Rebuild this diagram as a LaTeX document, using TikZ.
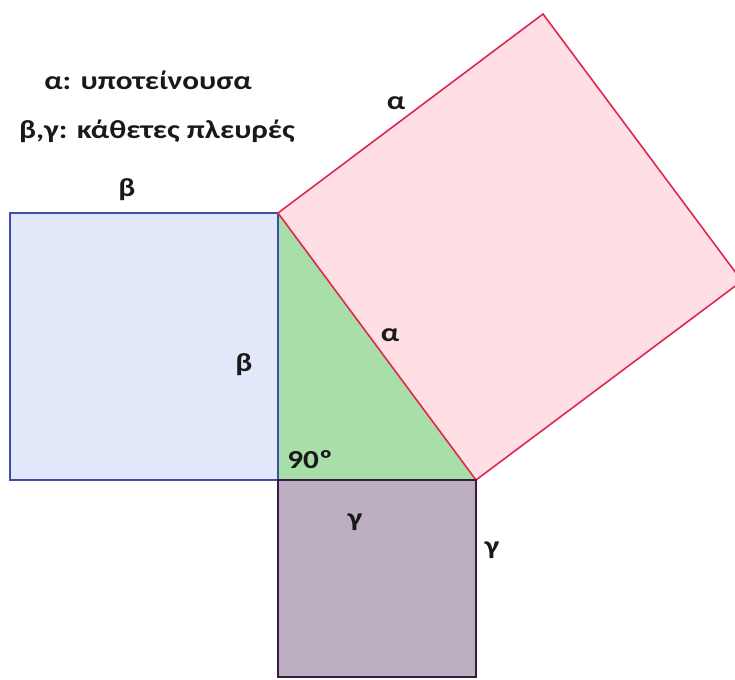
\documentclass[tikz,border=0pt]{standalone}
\usepackage{fontspec}
\usepackage{graphicx}
\setmainfont{Carlito}
\newcommand{\wtxt}[1]{\scalebox{1.2}[1]{#1}}
\begin{document}
\begin{tikzpicture}[x=1pt,y=-1pt,
  lbl/.style={font=\bfseries\fontsize{26}{30}\selectfont, text={rgb,255:red,25;green,25;blue,25}, inner sep=0pt},
  bluesq/.style={draw={rgb,255:red,60;green,80;blue,170}, fill={rgb,255:red,226;green,231;blue,250}, line width=1.6pt},
  greentri/.style={fill={rgb,255:red,168;green,222;blue,168}},
  pinksq/.style={draw={rgb,255:red,222;green,40;blue,80}, fill={rgb,255:red,255;green,222;blue,228}, line width=1.6pt},
  purpsq/.style={draw={rgb,255:red,60;green,25;blue,65}, fill={rgb,255:red,188;green,175;blue,193}, line width=2pt}]
\useasboundingbox (0,0) rectangle (735,679);
\clip (0,0) rectangle (735,679);
\coordinate (A) at (278,213);
\coordinate (C) at (278,480);
\coordinate (B) at (476,480);
\coordinate (P1) at (543,14);
\coordinate (P2) at (742,281);
\coordinate (L1) at (10,213);
\coordinate (L2) at (10,480);
\coordinate (D1) at (278,677);
\coordinate (D2) at (476,677);
\fill[greentri] (A) -- (C) -- (B) -- cycle;
\draw[bluesq] (L1) -- (A) -- (C) -- (L2) -- cycle;
\draw[pinksq] (A) -- (P1) -- (P2) -- (B) -- cycle;
\draw[purpsq] (C) -- (B) -- (D2) -- (D1) -- cycle;
\node[lbl] (t1) at (148,80) {\wtxt{α: υποτείνουσα}};
\node[lbl] (t2) at (157,131) {\wtxt{β,γ: κάθετες πλευρές}};
\node[lbl] (b1) at (127,190) {\wtxt{β}};
\node[lbl] (b2) at (244,365) {\wtxt{β}};
\node[lbl] (a1) at (396,103) {\wtxt{α}};
\node[lbl] (a2) at (390,335) {\wtxt{α}};
\node[lbl] (n90) at (310,460) {\wtxt{90º}};
\node[lbl] (g1) at (355,522) {\wtxt{γ}};
\node[lbl] (g2) at (492,550) {\wtxt{γ}};
\end{tikzpicture}
\end{document}
